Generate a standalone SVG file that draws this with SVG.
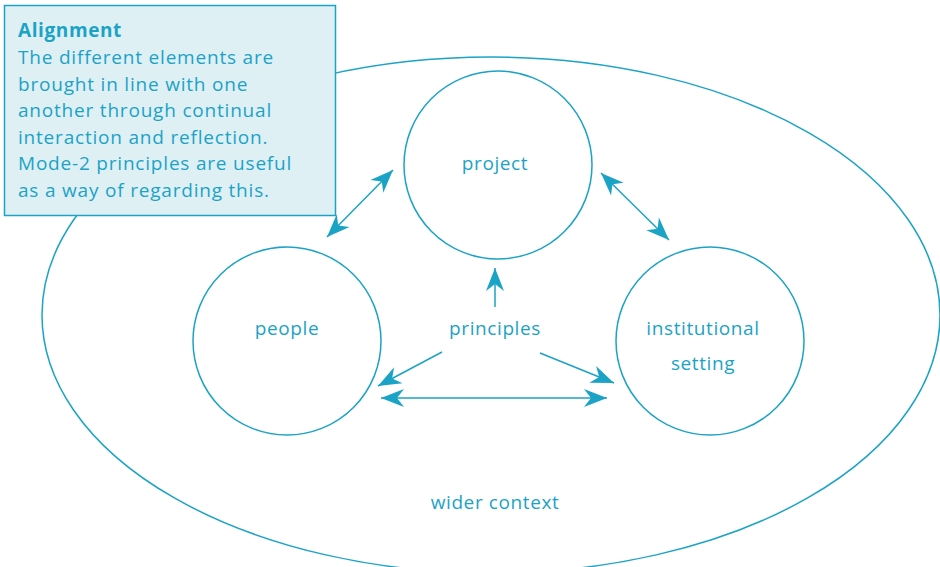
<svg xmlns="http://www.w3.org/2000/svg" width="940" height="567" viewBox="0 0 940 567">
<style>
.c{fill:none;stroke:#1ba3c6;stroke-width:1.5}
.t{font-family:"Open Sans","Liberation Sans",sans-serif;font-size:19px;fill:#1ba3c6;letter-spacing:0.6px}
.b{letter-spacing:0.8px}
.m{text-anchor:middle}
.ln{stroke:#1ba3c6;stroke-width:1.5;fill:none}
</style>
<defs>
<marker id="ah" viewBox="-25 -11 27 22" refX="0" refY="0" markerWidth="27" markerHeight="22" markerUnits="userSpaceOnUse" orient="auto-start-reverse">
<path d="M0,0 L-23,-9 L-16,0 L-23,9 Z" fill="#1ba3c6"/>
</marker>
</defs>
<rect width="940" height="567" fill="#fff"/>
<g id="context">
<ellipse class="c" cx="491" cy="315" rx="449" ry="258"/>
<text class="t m" x="495" y="509">wider context</text>
</g>
<g id="project">
<circle class="c" cx="498" cy="165" r="94"/>
<text class="t m" x="495" y="170">project</text>
</g>
<g id="people">
<circle class="c" cx="287" cy="341" r="94"/>
<text class="t m" x="287" y="335">people</text>
</g>
<g id="institutional">
<circle class="c" cx="710" cy="341" r="94"/>
<text class="t m" x="703" y="335">institutional</text>
<text class="t m" x="703" y="370">setting</text>
</g>
<g id="principles">
<text class="t m" x="495" y="335">principles</text>
</g>
<g id="connectors">
<line class="ln" x1="327" y1="237" x2="393" y2="170" marker-start="url(#ah)" marker-end="url(#ah)"/>
<line class="ln" x1="601" y1="173" x2="669" y2="240" marker-start="url(#ah)" marker-end="url(#ah)"/>
<line class="ln" x1="495" y1="307" x2="495" y2="268" marker-end="url(#ah)"/>
<line class="ln" x1="442" y1="352" x2="378" y2="386" marker-end="url(#ah)"/>
<line class="ln" x1="540" y1="353" x2="614" y2="383" marker-end="url(#ah)"/>
<line class="ln" x1="381" y1="398" x2="607" y2="398" marker-start="url(#ah)" marker-end="url(#ah)"/>
</g>
<g id="alignment">
<rect x="4.5" y="5.5" width="331" height="210" fill="#dff0f5" stroke="#1ba3c6" stroke-width="1.5"/>
<text class="t" x="18" y="37" font-weight="bold">Alignment</text>
<text class="t b" x="18" y="64">The different elements are</text>
<text class="t b" x="18" y="91">brought in line with one</text>
<text class="t b" x="18" y="117">another through continual</text>
<text class="t b" x="18" y="144">interaction and reflection.</text>
<text class="t b" x="18" y="170">Mode-2 principles are useful</text>
<text class="t b" x="18" y="197">as a way of regarding this.</text>
</g>
</svg>
